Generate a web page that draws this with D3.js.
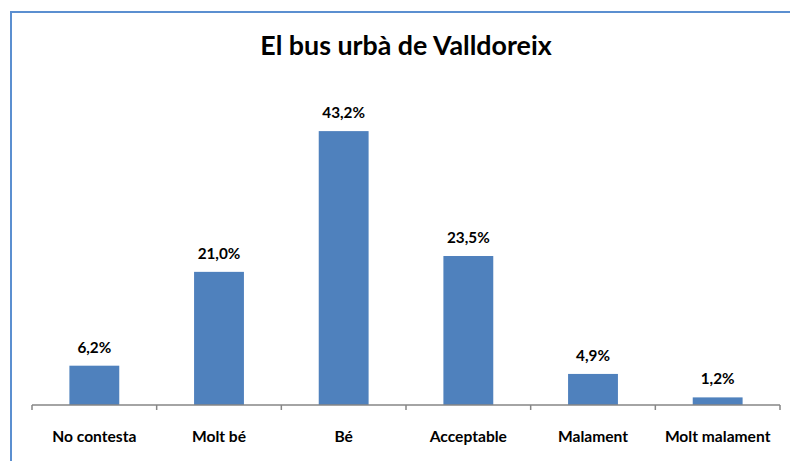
<!DOCTYPE html>
<html>
<head>
<meta charset="utf-8">
<script src="https://cdn.jsdelivr.net/npm/d3@7"></script>
<style>
  body { margin: 0; background: #fff; }
  text { font-family: Lato, "Open Sans", sans-serif; font-weight: bold; fill: #000; }
</style>
</head>
<body>
<div id="chart"></div>
<script>
// data
var categories = ["No contesta", "Molt bé", "Bé", "Acceptable", "Malament", "Molt malament"];
var values = [6.2, 21.0, 43.2, 23.5, 4.9, 1.2];
var title = "El bus urbà de Valldoreix";

var W = 790, H = 461;
var margin = {top: 88, right: 10, bottom: 56, left: 32},
    width = 780 - margin.left,
    height = 405 - margin.top;

var svg = d3.select("#chart")
  .append("svg")
    .attr("width", W)
    .attr("height", H);

// outer chart border (runs off right/bottom)
svg.append("rect")
  .attr("x", 11).attr("y", 12)
  .attr("width", W + 20).attr("height", H + 20)
  .attr("fill", "none")
  .attr("stroke", "#5b8fd0")
  .attr("stroke-width", 2);

// title
svg.append("text")
  .attr("x", 406).attr("y", 55)
  .attr("text-anchor", "middle")
  .style("font-size", "26.8px")
  .text(title);

var g = svg.append("g")
  .attr("transform", "translate(" + margin.left + "," + margin.top + ")");

var x = d3.scaleBand().domain(categories).range([0, width]).paddingInner(0.6).paddingOuter(0.3);
var xb = d3.scaleBand().domain(categories).range([0, width]);
var y = d3.scaleLinear().domain([0, 50]).range([height, 0]);

// bars
g.selectAll("rect.bar")
  .data(values)
  .enter().append("rect")
    .attr("class", "bar")
    .attr("x", function(d, i) { return x(categories[i]); })
    .attr("y", function(d) { return y(d); })
    .attr("width", x.bandwidth())
    .attr("height", function(d) { return height - y(d); })
    .attr("fill", "#4f81bd");

// value labels
g.selectAll("text.val")
  .data(values)
  .enter().append("text")
    .attr("class", "val")
    .attr("x", function(d, i) { return x(categories[i]) + x.bandwidth() / 2; })
    .attr("y", function(d) { return y(d) - 13; })
    .attr("text-anchor", "middle")
    .style("font-size", "15.3px")
    .text(function(d) { return d.toFixed(1).replace(".", ",") + "%"; });

// x axis with ticks between categories
var axis = g.append("g")
  .attr("transform", "translate(0," + height + ")");
axis.append("line")
  .attr("x1", 0).attr("x2", width)
  .attr("stroke", "#868686").attr("stroke-width", 1.5);
var ticks = [0].concat(categories.map(function(c) { return xb(c) + xb.bandwidth(); }));
axis.selectAll("line.tick")
  .data(ticks)
  .enter().append("line")
    .attr("class", "tick")
    .attr("x1", function(d) { return d; }).attr("x2", function(d) { return d; })
    .attr("y1", 0).attr("y2", 5)
    .attr("stroke", "#868686").attr("stroke-width", 1.5);
axis.selectAll("text.cat")
  .data(categories)
  .enter().append("text")
    .attr("class", "cat")
    .attr("x", function(d) { return xb(d) + xb.bandwidth() / 2; })
    .attr("y", 37)
    .attr("text-anchor", "middle")
    .style("font-size", "15.6px")
    .text(function(d) { return d; });
</script>
</body>
</html>
